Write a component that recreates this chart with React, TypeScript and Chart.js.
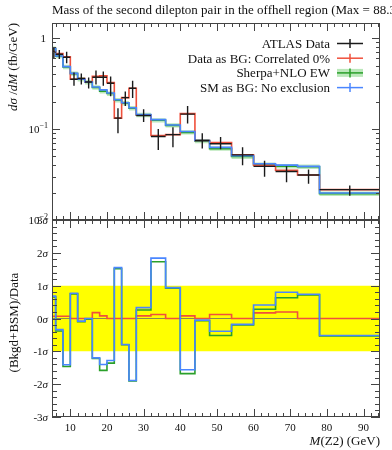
import React, { useEffect, useRef } from 'react';
import { Chart, registerables } from 'chart.js';
Chart.register(...registerables);

// ---- data ----
const binEdges = [5, 6, 8, 10, 12, 14, 16, 18, 20, 22, 24, 26, 28, 32, 36, 40, 44, 48, 54, 60, 66, 72, 78, 94.5];
const dataValues = [0.70, 0.667, 0.618, 0.354, 0.36, 0.33, 0.372, 0.372, 0.32, 0.132, 0.222, 0.282, 0.141, 0.083, 0.087, 0.146, 0.075, 0.069, 0.052, 0.0389, 0.0342, 0.0313, 0.0216];
const dataHi = [0.79, 0.74, 0.71, 0.42, 0.41, 0.37, 0.44, 0.43, 0.38, 0.17, 0.26, 0.34, 0.165, 0.10, 0.105, 0.18, 0.09, 0.082, 0.063, 0.045, 0.039, 0.036, 0.024];
const dataLo = [0.59, 0.59, 0.53, 0.30, 0.31, 0.28, 0.31, 0.30, 0.23, 0.09, 0.18, 0.22, 0.12, 0.059, 0.063, 0.115, 0.061, 0.06, 0.04, 0.03, 0.026, 0.025, 0.0185];
const redValues = [0.72, 0.68, 0.625, 0.354, 0.36, 0.33, 0.38, 0.385, 0.325, 0.132, 0.222, 0.282, 0.143, 0.085, 0.087, 0.148, 0.075, 0.071, 0.052, 0.040, 0.0352, 0.0313, 0.0216];
const greenValues = [0.77, 0.635, 0.483, 0.408, 0.353, 0.328, 0.287, 0.262, 0.246, 0.208, 0.193, 0.17, 0.143, 0.125, 0.11, 0.092, 0.074, 0.061, 0.05, 0.0405, 0.039, 0.0385, 0.0195];
const greenHi = [0.81, 0.67, 0.51, 0.43, 0.372, 0.346, 0.303, 0.277, 0.26, 0.22, 0.204, 0.18, 0.151, 0.132, 0.116, 0.097, 0.078, 0.0645, 0.053, 0.0428, 0.0412, 0.0407, 0.0206];
const greenLo = [0.73, 0.60, 0.456, 0.386, 0.334, 0.31, 0.271, 0.247, 0.232, 0.196, 0.182, 0.16, 0.135, 0.118, 0.104, 0.087, 0.07, 0.0577, 0.047, 0.0382, 0.0368, 0.0363, 0.0184];
const blueValues = [0.776, 0.638, 0.487, 0.41, 0.355, 0.33, 0.29, 0.27, 0.25, 0.21, 0.195, 0.172, 0.145, 0.127, 0.111, 0.094, 0.075, 0.063, 0.051, 0.0416, 0.0402, 0.0389, 0.0198];

const blueDev = [0.68, -0.34, -1.41, 0.77, -0.08, 0, -1.2, -1.4, -1.28, 1.55, -0.79, -1.89, 0.33, 1.84, 0.94, -1.56, -0.05, -0.39, -0.18, 0.41, 0.8, 0.74, -0.52];
const greenDev = [0.66, -0.38, -1.46, 0.75, -0.1, -0.02, -1.22, -1.58, -1.36, 1.52, -0.8, -1.9, 0.26, 1.73, 0.92, -1.68, -0.07, -0.52, -0.2, 0.28, 0.63, 0.72, -0.53];
const redDev = [0.07, 0.07, 0.07, 0, 0, 0, 0.18, 0.08, 0, 0, 0, 0, 0.08, 0.12, 0, 0.08, 0, 0.12, 0, 0.17, 0.2, 0, 0];

const xTickValues = [10, 20, 30, 40, 50, 60, 70, 80, 90];
const xTickLabels = ['10', '20', '30', '40', '50', '60', '70', '80', '90'];
const upperTickValues = [1, 0.1, 0.01];
const upperTickExps = ['', '\u22121', '\u22122'];
const lowerTickValues = [3, 2, 1, 0, -1, -2, -3];
const lowerTickLabels = ['3', '2', '1', '0', '-1', '-2', '-3'];
const legendLabels = ['ATLAS Data', 'Data as BG: Correlated 0%', 'Sherpa+NLO EW', 'SM as BG: No exclusion'];
const titleText = 'Mass of the second dilepton pair in the offhell region (Max = 88.3 GeV)';

// ---- styles ----
const BLACK = '#1a1a1a';
const RED = '#f0503c';
const GREEN = '#2aa02a';
const BLUE = '#4a86ff';
const GREEN_BAND = 'rgba(120,210,120,0.5)';
const YELLOW = '#ffff00';
const FRAME = '#444';
const TXT = '#111';
const FAM = '"Liberation Serif", "DejaVu Serif", serif';
const fnt = (size: number, italic?: boolean) => `${italic ? 'italic ' : ''}${size}px ${FAM}`;

type Piece = { t: string; italic?: boolean; size?: number; dy?: number };
function drawRich(ctx: CanvasRenderingContext2D, pieces: Piece[], x: number, y: number, align: 'left' | 'right' | 'center', size: number) {
  let w = 0;
  for (const p of pieces) { ctx.font = fnt(p.size || size, p.italic); w += ctx.measureText(p.t).width; }
  let cx = align === 'left' ? x : align === 'right' ? x - w : x - w / 2;
  ctx.textAlign = 'left';
  for (const p of pieces) {
    ctx.font = fnt(p.size || size, p.italic);
    ctx.fillText(p.t, cx, y + (p.dy || 0));
    cx += ctx.measureText(p.t).width;
  }
}
function seg(ctx: CanvasRenderingContext2D, x1: number, y1: number, x2: number, y2: number) {
  ctx.beginPath(); ctx.moveTo(x1, y1); ctx.lineTo(x2, y2); ctx.stroke();
}
function drawXTicks(ctx: CanvasRenderingContext2D, xs: any, top: number, bottom: number) {
  for (let v = 6; v <= 94; v += 2) {
    const len = v % 10 === 0 ? 8 : 4;
    const px = Math.round(xs.getPixelForValue(v)) + 0.5;
    seg(ctx, px, top, px, top + len);
    seg(ctx, px, bottom, px, bottom - len);
  }
}

const stepPoints = (vals: number[]) => {
  const pts = vals.map((v, i) => ({ x: binEdges[i], y: v }));
  pts.push({ x: binEdges[binEdges.length - 1], y: vals[vals.length - 1] });
  return pts;
};
const dataSegments = () => {
  const pts: { x: number; y: number | null }[] = [];
  dataValues.forEach((v, i) => {
    const c = (binEdges[i] + binEdges[i + 1]) / 2;
    pts.push({ x: binEdges[i], y: v }, { x: binEdges[i + 1], y: v }, { x: c, y: null });
    pts.push({ x: c, y: dataLo[i] }, { x: c, y: dataHi[i] }, { x: c, y: null });
  });
  return pts;
};

const upperPlugin = {
  id: 'upperDeco',
  afterDraw(chart: any) {
    const ctx: CanvasRenderingContext2D = chart.ctx;
    const { left, right, top, bottom } = chart.chartArea;
    const xs = chart.scales.x, ys = chart.scales.y;
    ctx.save();
    ctx.strokeStyle = FRAME; ctx.lineWidth = 1;
    drawXTicks(ctx, xs, top, bottom);
    for (let e = -2; e <= 0; e++) for (let k = 1; k <= 9; k++) {
      const v = k * Math.pow(10, e);
      if (v > ys.max) continue;
      const len = k === 1 ? 8 : 4;
      const py = Math.round(ys.getPixelForValue(v)) + 0.5;
      seg(ctx, left, py, left + len, py);
      seg(ctx, right, py, right - len, py);
    }
    ctx.strokeRect(left + 0.5, top + 0.5, right - left - 1, bottom - top - 1);
    ctx.fillStyle = TXT;
    ctx.textBaseline = 'alphabetic';
    upperTickValues.forEach((v, i) => {
      const py = ys.getPixelForValue(v) + 4;
      if (upperTickExps[i] === '') drawRich(ctx, [{ t: '1' }], 46, py, 'right', 11);
      else drawRich(ctx, [{ t: '10' }, { t: upperTickExps[i], size: 8, dy: -5 }], 48, py, 'right', 11);
    });
    // title
    ctx.font = fnt(13);
    ctx.textAlign = 'left';
    ctx.fillText(titleText, 52, 14);
    // y title
    ctx.save();
    ctx.translate(17, top);
    ctx.rotate(-Math.PI / 2);
    drawRich(ctx, [{ t: 'd\u03c3', italic: true }, { t: ' /' }, { t: 'dM', italic: true }, { t: ' (fb/GeV)' }], 0, 0, 'right', 13);
    ctx.restore();
    // legend
    const colors = [BLACK, RED, GREEN, BLUE];
    legendLabels.forEach((lab, i) => {
      const y = 43.5 + i * 14.7;
      ctx.fillStyle = TXT;
      ctx.font = fnt(13);
      ctx.textAlign = 'right';
      ctx.textBaseline = 'middle';
      ctx.fillText(lab, 330, y + 1);
      if (i === 2) { ctx.fillStyle = GREEN_BAND; ctx.fillRect(337, y - 4, 26, 8); }
      ctx.strokeStyle = colors[i]; ctx.lineWidth = 1.5;
      seg(ctx, 337, y, 363, y);
      seg(ctx, 350, y - 4.5, 350, y + 4.5);
    });
    ctx.restore();
  },
};

const lowerPlugin = {
  id: 'lowerDeco',
  afterDraw(chart: any) {
    const ctx: CanvasRenderingContext2D = chart.ctx;
    const { left, right, top, bottom } = chart.chartArea;
    const xs = chart.scales.x, ys = chart.scales.y;
    ctx.save();
    ctx.strokeStyle = FRAME; ctx.lineWidth = 1;
    drawXTicks(ctx, xs, top, bottom);
    for (let k = -15; k <= 15; k++) {
      const v = k / 5;
      const len = k % 5 === 0 ? 9 : 5;
      const py = Math.round(ys.getPixelForValue(v)) + 0.5;
      seg(ctx, left, py, left + len, py);
      seg(ctx, right, py, right - len, py);
    }
    ctx.strokeRect(left + 0.5, top + 0.5, right - left - 1, bottom - top - 1);
    ctx.fillStyle = TXT;
    ctx.textBaseline = 'alphabetic';
    lowerTickValues.forEach((v, i) => {
      const py = ys.getPixelForValue(v) + 4;
      drawRich(ctx, [{ t: lowerTickLabels[i] }, { t: '\u03c3', italic: true }], 48, py, 'right', 11);
    });
    xTickValues.forEach((v, i) => {
      drawRich(ctx, [{ t: xTickLabels[i] }], xs.getPixelForValue(v), bottom + 14, 'center', 11);
    });
    drawRich(ctx, [{ t: 'M', italic: true }, { t: '(Z2) (GeV)' }], right, bottom + 28, 'right', 13);
    ctx.save();
    ctx.translate(18, (top + bottom) / 2 + 4);
    ctx.rotate(-Math.PI / 2);
    drawRich(ctx, [{ t: '(Bkgd+BSM)/Data' }], 0, 0, 'center', 13);
    ctx.restore();
    ctx.restore();
  },
};

const stepDs = (vals: number[], color: string, width = 1.6) => ({
  data: stepPoints(vals), borderColor: color, borderWidth: width, stepped: true as const,
  pointRadius: 0, fill: false,
});

export default function App() {
  const upRef = useRef<HTMLCanvasElement>(null);
  const lowRef = useRef<HTMLCanvasElement>(null);
  useEffect(() => {
    const common = {
      animation: false as const,
      responsive: false,
      events: [] as any[],
      plugins: { legend: { display: false }, tooltip: { enabled: false }, title: { display: false } },
      elements: { point: { radius: 0 }, line: { tension: 0 } },
    };
    const c1 = new Chart(upRef.current!, {
      type: 'line',
      data: {
        datasets: [
          { data: dataSegments(), borderColor: BLACK, borderWidth: 1.4, pointRadius: 0, fill: false, spanGaps: false },
          stepDs(blueValues, BLUE),
          stepDs(redValues, RED),
          stepDs(greenValues, GREEN),
          { ...stepDs(greenHi, 'rgba(0,0,0,0)', 0) },
          { ...stepDs(greenLo, 'rgba(0,0,0,0)', 0), fill: '-1', backgroundColor: GREEN_BAND },
        ] as any,
      },
      options: {
        ...common,
        layout: { padding: { left: 52, right: 12, top: 23, bottom: 20 } },
        scales: {
          x: { type: 'linear', min: binEdges[0], max: binEdges[binEdges.length - 1], display: false },
          y: { type: 'logarithmic', min: 0.01, max: 1.47, display: false },
        },
      } as any,
      plugins: [upperPlugin],
    });
    const last = binEdges[binEdges.length - 1];
    const c2 = new Chart(lowRef.current!, {
      type: 'line',
      data: {
        datasets: [
          stepDs(blueDev, BLUE),
          stepDs(greenDev, GREEN),
          stepDs(redDev, RED),
          { data: [{ x: binEdges[0], y: 0 }, { x: last, y: 0 }], borderColor: '#8a8a50', borderWidth: 1.2, pointRadius: 0, fill: false },
          { data: [{ x: binEdges[0], y: 1 }, { x: last, y: 1 }], borderWidth: 0, borderColor: 'rgba(0,0,0,0)', pointRadius: 0, fill: { value: -1 }, backgroundColor: YELLOW },
        ] as any,
      },
      options: {
        ...common,
        layout: { padding: { left: 52, right: 12, top: 5, bottom: 33 } },
        scales: {
          x: { type: 'linear', min: binEdges[0], max: last, display: false },
          y: { type: 'linear', min: -3, max: 3, display: false },
        },
      } as any,
      plugins: [lowerPlugin],
    });
    return () => { c1.destroy(); c2.destroy(); };
  }, []);
  return (
    <div style={{ position: 'absolute', left: 0, top: 0, width: 392, height: 450, background: '#fff', overflow: 'hidden' }}>
      <canvas ref={upRef} width={392} height={240} style={{ position: 'absolute', left: 0, top: 0 }} />
      <canvas ref={lowRef} width={392} height={235} style={{ position: 'absolute', left: 0, top: 215 }} />
    </div>
  );
}
